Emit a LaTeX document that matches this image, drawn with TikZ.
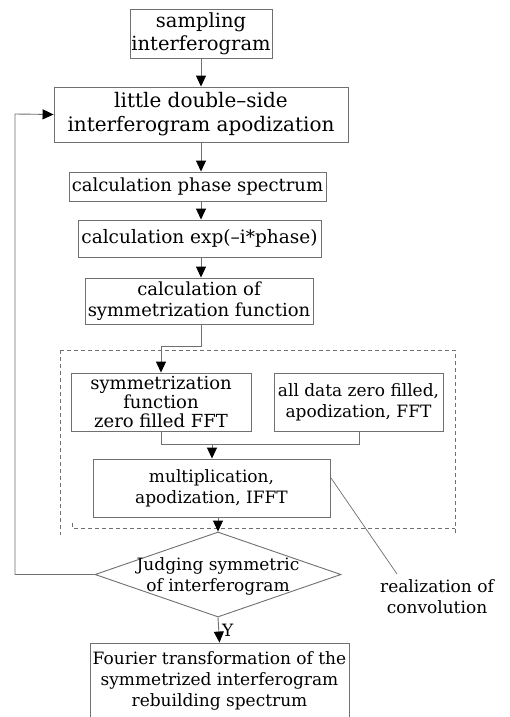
\documentclass[tikz,border=0pt]{standalone}
\usepackage{fontspec}
\setmainfont{DejaVu Serif}
\usetikzlibrary{arrows.meta,shapes.geometric}
\definecolor{linegray}{HTML}{707070}
\begin{document}
\begin{tikzpicture}[x=1pt,y=-1pt,
  box/.style={draw=linegray,line width=0.9pt,inner sep=0pt,align=center,
    font=\fontsize{17}{21}\selectfont},
  conn/.style={draw=linegray,line width=0.9pt},
  arr/.style={conn,-{Triangle[length=11pt,width=10pt,fill=black,color=black]}},
  dashbox/.style={draw=linegray,line width=0.9pt,dash pattern=on 4pt off 3pt},
  lbl/.style={inner sep=0pt,align=center,font=\fontsize{17}{21}\selectfont}]
\useasboundingbox (0,0) rectangle (509,717);
\fill[white] (0,0) rectangle (509,717);
\node[box,minimum width=142pt,minimum height=49pt,font=\fontsize{19.5}{23}\selectfont] (b1) at (201,33.5) {sampling\\interferogram};
\node[box,minimum width=294pt,minimum height=55pt,font=\fontsize{20}{24}\selectfont] (b2) at (201,114.5) {little double--side\\interferogram apodization};
\node[box,minimum width=257pt,minimum height=29pt,font=\fontsize{18}{21}\selectfont] (b3) at (197.5,186.5) {calculation phase spectrum};
\node[box,minimum width=243pt,minimum height=37pt,font=\fontsize{18.5}{21}\selectfont] (b4) at (199.5,238.5) {calculation exp(--i*phase)};
\node[box,minimum width=228pt,minimum height=46pt,font=\fontsize{18}{21}\selectfont] (b5) at (199,301) {calculation of\\symmetrization function};
\node[box,minimum width=180pt,minimum height=58pt,font=\fontsize{18}{19}\selectfont] (b6) at (161,402) {symmetrization\\function\\zero filled FFT};
\node[box,minimum width=169pt,minimum height=58pt] (b7) at (358.5,402) {all data zero filled,\\apodization, FFT};
\node[box,minimum width=237pt,minimum height=58pt] (b8) at (211.5,488) {multiplication,\\apodization, IFFT};
\node[draw=linegray,line width=0.9pt,diamond,inner sep=0pt,minimum width=246pt,minimum height=85pt] (dia) at (218,574.5) {};
\node[lbl] (diat) at (218,576) {Judging symmetric\\of interferogram};
\node[box,minimum width=259pt,minimum height=94pt] (b9) at (219.5,690) {};
\node[lbl] (b9t) at (219.5,681) {Fourier transformation of the\\symmetrized interferogram\\rebuilding spectrum};
\node[lbl] (conv) at (437,597) {realization of\\convolution};
% dashed region
\draw[dashbox] (60,350) -- (455,350) -- (455,535);
\draw[dashbox] (60,350) -- (60,535);
\draw[dashbox] (72,523) -- (72,528) -- (455,528);
% connectors
\coordinate (x0) at (201,0);
\draw[arr] (b1.south -| x0) -- (b2.north -| x0);
\draw[arr] (b2.south -| x0) -- (b3.north -| x0);
\draw[arr] (b3.south -| x0) -- (b4.north -| x0);
\draw[arr] (b4.south -| x0) -- (b5.north -| x0);
\coordinate (c1) at (201,346);
\coordinate (c2) at (161,346);
\draw[arr] (b5.south -| c1) -- (c1) -- (c2) -- (b6.north);
\coordinate (c3) at (161,444);
\coordinate (c4) at (359,444);
\draw[conn] (b6.south) -- (c3) -- (c4) -- (b7.south -| c4);
\coordinate (c5) at (212,444);
\draw[arr] (c5) -- (b8.north -| c5);
\coordinate (c6) at (218,0);
\draw[arr] (b8.south -| c6) -- (dia.north);
\draw[arr] (dia.south) -- (b9.north) node[midway,right=3pt,lbl] (ylab) {Y};
\coordinate (f1) at (15,574.5);
\coordinate (f2) at (15,114);
\draw[arr] (dia.west) -- (f1) -- (f2) -- (b2.west);
\coordinate (a1) at (331,478);
\coordinate (a2) at (397,574);
\draw[conn,line width=0.7pt] (a1) -- (a2);
\end{tikzpicture}
\end{document}
